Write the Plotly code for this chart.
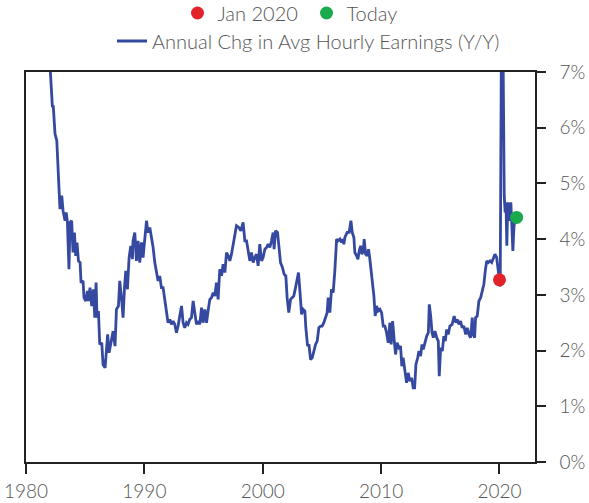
import plotly.graph_objects as go

# Annual change in average hourly earnings (Y/Y, %)
years = [
    1980.0, 1981.0, 1981.9, 1982.09, 1982.23, 1982.3, 1982.45, 1982.6, 1982.79, 1982.87,
    1983.02, 1983.13, 1983.3, 1983.4, 1983.5, 1983.63, 1983.72, 1983.86, 1983.97, 1984.09,
    1984.2, 1984.31, 1984.43, 1984.57, 1984.65, 1984.82, 1984.9, 1985.05, 1985.19, 1985.27,
    1985.41, 1985.55, 1985.7, 1985.81, 1985.92, 1986.0, 1986.12, 1986.23, 1986.4, 1986.51,
    1986.68, 1986.8, 1986.9, 1987.02, 1987.19, 1987.36, 1987.52, 1987.64, 1987.81, 1987.92,
    1988.09, 1988.2, 1988.32, 1988.43, 1988.57, 1988.71, 1988.85, 1988.99, 1989.04, 1989.19,
    1989.33, 1989.47, 1989.61, 1989.76, 1989.89, 1990.03, 1990.18, 1990.31, 1990.46, 1990.6,
    1990.74, 1990.88, 1991.02, 1991.16, 1991.3, 1991.44, 1991.58, 1991.72, 1991.87, 1992.0,
    1992.15, 1992.29, 1992.43, 1992.57, 1992.71, 1992.85, 1992.99, 1993.14, 1993.27, 1993.41,
    1993.56, 1993.69, 1993.84, 1993.98, 1994.12, 1994.26, 1994.4, 1994.54, 1994.68, 1994.83,
    1994.96, 1995.11, 1995.25, 1995.38, 1995.53, 1995.67, 1995.81, 1995.95, 1996.09, 1996.23,
    1996.37, 1996.52, 1996.65, 1996.8, 1996.94, 1997.08, 1997.22, 1997.36, 1997.5, 1997.64,
    1997.78, 1997.98, 1998.15, 1998.34, 1998.49, 1998.63, 1998.77, 1998.91, 1999.05, 1999.19,
    1999.33, 1999.47, 1999.61, 1999.75, 1999.9, 2000.03, 2000.18, 2000.32, 2000.46, 2000.6,
    2000.74, 2000.88, 2000.96, 2001.08, 2001.25, 2001.36, 2001.5, 2001.67, 2001.81, 2001.95,
    2002.06, 2002.2, 2002.35, 2002.48, 2002.62, 2002.77, 2002.9, 2003.02, 2003.14, 2003.28,
    2003.42, 2003.56, 2003.64, 2003.79, 2003.9, 2004.04, 2004.18, 2004.32, 2004.46, 2004.6,
    2004.74, 2004.89, 2005.02, 2005.16, 2005.31, 2005.44, 2005.53, 2005.67, 2005.81, 2005.95,
    2006.09, 2006.24, 2006.37, 2006.52, 2006.66, 2006.74, 2006.85, 2006.94, 2007.13, 2007.3,
    2007.45, 2007.56, 2007.7, 2007.78, 2007.93, 2008.04, 2008.15, 2008.27, 2008.38, 2008.49,
    2008.57, 2008.69, 2008.82, 2008.94, 2009.05, 2009.16, 2009.28, 2009.39, 2009.5, 2009.62,
    2009.75, 2009.9, 2010.04, 2010.18, 2010.32, 2010.46, 2010.6, 2010.74, 2010.85, 2010.97,
    2011.1, 2011.22, 2011.35, 2011.5, 2011.64, 2011.75, 2011.86, 2012.0, 2012.15, 2012.29,
    2012.43, 2012.58, 2012.71, 2012.83, 2012.94, 2013.09, 2013.2, 2013.34, 2013.45, 2013.56,
    2013.71, 2013.85, 2013.99, 2014.07, 2014.19, 2014.3, 2014.41, 2014.55, 2014.7, 2014.83,
    2014.91, 2015.03, 2015.17, 2015.3, 2015.42, 2015.54, 2015.67, 2015.81, 2016.0, 2016.17,
    2016.32, 2016.43, 2016.57, 2016.71, 2016.85, 2016.99, 2017.14, 2017.28, 2017.42, 2017.56,
    2017.7, 2017.78, 2017.9, 2017.98, 2018.12, 2018.26, 2018.41, 2018.54, 2018.68, 2018.8,
    2018.92, 2019.05, 2019.2, 2019.34, 2019.48, 2019.62, 2019.76, 2019.9, 2019.98, 2020.06,
    2020.17, 2020.3, 2020.4, 2020.48, 2020.55, 2020.62, 2020.7, 2020.79, 2020.88, 2020.96,
    2021.04, 2021.13, 2021.22, 2021.33,
]
values = [
    8.8, 8.5, 7.6, 7.0, 6.37, 6.4, 5.89, 5.77, 4.75, 4.54,
    4.78, 4.51, 4.33, 4.48, 4.30, 3.46, 4.30, 4.33, 3.76, 4.12,
    3.70, 3.94, 3.61, 3.58, 3.22, 3.25, 2.95, 2.89, 3.07, 2.89,
    3.13, 2.80, 3.10, 2.59, 3.22, 2.59, 2.71, 2.11, 2.14, 1.75,
    1.69, 2.11, 2.29, 1.96, 2.17, 2.35, 2.08, 2.74, 2.80, 3.25,
    2.89, 2.59, 3.13, 3.43, 3.10, 3.67, 3.88, 3.64, 3.97, 4.12,
    3.61, 3.97, 3.58, 3.94, 3.67, 4.06, 4.33, 4.12, 4.21, 4.03,
    3.85, 3.58, 3.40, 3.25, 3.34, 3.13, 3.13, 2.89, 2.74, 2.50,
    2.56, 2.47, 2.53, 2.47, 2.32, 2.44, 2.62, 2.80, 2.50, 2.41,
    2.50, 2.47, 2.56, 2.59, 2.89, 2.65, 2.47, 2.53, 2.47, 2.77,
    2.50, 2.74, 2.50, 2.71, 2.92, 2.95, 3.04, 2.98, 3.22, 2.92,
    3.46, 3.34, 3.55, 3.40, 3.76, 3.70, 3.61, 3.73, 3.88, 4.06,
    4.24, 4.21, 4.15, 4.30, 3.97, 3.97, 3.79, 3.61, 3.76, 3.58,
    3.67, 3.73, 3.52, 3.91, 3.61, 3.67, 3.82, 3.85, 3.91, 3.85,
    3.97, 4.12, 3.82, 4.15, 4.12, 3.88, 3.58, 3.49, 3.37, 3.34,
    2.95, 2.68, 2.92, 2.95, 2.98, 3.13, 3.25, 3.40, 3.07, 2.65,
    2.74, 2.71, 2.41, 2.08, 2.11, 1.84, 1.87, 1.99, 2.11, 2.17,
    2.41, 2.44, 2.44, 2.50, 2.59, 2.68, 2.95, 2.68, 3.10, 3.04,
    3.43, 4.00, 3.97, 4.00, 3.94, 4.00, 3.91, 4.03, 4.12, 4.12,
    4.33, 4.12, 4.03, 3.76, 3.70, 3.64, 3.79, 3.88, 3.73, 3.79,
    4.00, 3.73, 3.70, 3.82, 3.64, 3.46, 3.22, 2.98, 2.62, 2.80,
    2.71, 2.74, 2.68, 2.44, 2.44, 2.32, 2.14, 2.50, 2.11, 2.53,
    2.20, 1.93, 2.14, 2.05, 2.08, 1.72, 1.87, 1.63, 1.42, 1.60,
    1.45, 1.51, 1.33, 1.33, 1.75, 1.87, 1.99, 1.90, 2.11, 2.02,
    2.17, 2.26, 2.32, 2.83, 2.62, 2.32, 2.23, 2.35, 2.23, 2.17,
    1.54, 2.05, 1.99, 2.26, 2.17, 2.38, 2.29, 2.44, 2.47, 2.62,
    2.50, 2.56, 2.47, 2.53, 2.41, 2.44, 2.29, 2.41, 2.29, 2.23,
    2.59, 2.29, 2.23, 2.59, 2.62, 2.89, 2.95, 3.10, 3.19, 3.43,
    3.61, 3.58, 3.61, 3.58, 3.64, 3.73, 3.67, 3.43, 3.19, 3.15,
    7.9, 7.4, 4.78, 4.48, 4.66, 3.88, 4.66, 4.33, 4.51, 4.66,
    4.27, 3.79, 4.21, 4.39,
]

jan2020_x = [2020.0]
jan2020_y = [3.27]
today_x = [2021.45]
today_y = [4.39]

x_ticks = [1980, 1990, 2000, 2010, 2020]
y_ticks = [0, 1, 2, 3, 4, 5, 6, 7]
y_tick_labels = [f"{v}%" for v in y_ticks]

LINE_BLUE = "#34499f"
RED = "#e2232a"
GREEN = "#1aaa4b"
TEXT = "#555555"
AXIS = "#222222"
FONT = "Lato"

fig = go.Figure()
fig.add_trace(go.Scatter(
    x=years, y=values, mode="lines",
    line=dict(color=LINE_BLUE, width=2.8),
    name="Annual Chg in Avg Hourly Earnings (Y/Y)",
    legend="legend2",
))
fig.add_trace(go.Scatter(
    x=jan2020_x, y=jan2020_y, mode="markers",
    marker=dict(color=RED, size=13),
    name="Jan 2020", cliponaxis=False,
))
fig.add_trace(go.Scatter(
    x=today_x, y=today_y, mode="markers",
    marker=dict(color=GREEN, size=13),
    name="Today", cliponaxis=False,
))

fig.update_layout(
    width=589, height=503,
    margin=dict(l=26, r=54, t=72, b=41, autoexpand=False),
    paper_bgcolor="white", plot_bgcolor="white",
    font=dict(family=FONT, color=TEXT, size=18, weight=300),
    showlegend=True,
    legend=dict(
        orientation="h", xref="container", yref="container",
        x=0.5 + 12 / 589, xanchor="center", y=1 - 13 / 503, yanchor="middle",
        font=dict(size=20, color=TEXT, weight=300), bgcolor="rgba(0,0,0,0)",
        entrywidth=84, entrywidthmode="pixels",
        itemclick=False, itemdoubleclick=False,
    ),
    legend2=dict(
        orientation="h", xref="container", yref="container",
        x=0.5 + 14 / 589, xanchor="center", y=1 - 41 / 503, yanchor="middle",
        font=dict(size=20, color=TEXT, weight=300), bgcolor="rgba(0,0,0,0)",
        itemclick=False, itemdoubleclick=False,
    ),
    xaxis=dict(
        range=[1980, 2023.0], tickmode="array", tickvals=x_ticks,
        ticktext=[str(t) for t in x_ticks],
        showgrid=False, zeroline=False, automargin=False,
        showline=True, linecolor=AXIS, linewidth=1.5, mirror=True,
        ticks="outside", ticklen=10, tickwidth=1.5, tickcolor=AXIS,
        tickfont=dict(size=19, color=TEXT, weight=300),
        ticklabelstandoff=1,
    ),
    yaxis=dict(
        range=[0, 7], side="right", tickmode="array", tickvals=y_ticks,
        ticktext=y_tick_labels,
        showgrid=False, zeroline=False, automargin=False,
        showline=True, linecolor=AXIS, linewidth=1.5, mirror=True,
        ticks="outside", ticklen=9, tickwidth=1.5, tickcolor=AXIS,
        tickfont=dict(size=19, color=TEXT, weight=300),
        ticklabelstandoff=10,
    ),
)

fig.write_html("out.html")
